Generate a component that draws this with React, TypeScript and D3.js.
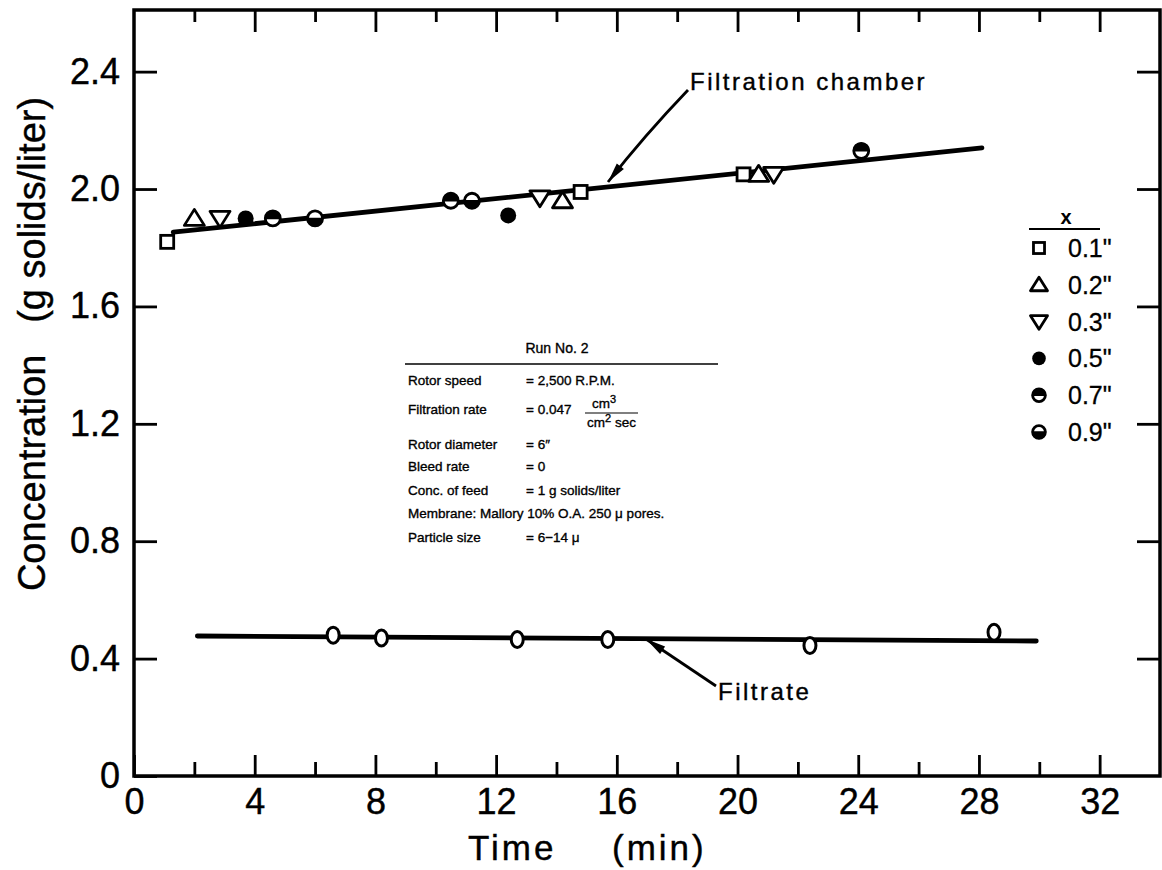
import React, { useEffect, useRef } from 'react';
import * as d3 from 'd3';

// tick values
const timeMajor = [0, 4, 8, 12, 16, 20, 24, 28, 32];
const timeMinor = [2, 6, 10, 14, 18, 22, 26, 30];
const concTicks = [0, 0.4, 0.8, 1.2, 1.6, 2.0, 2.4];

// filtration chamber readings, by position x
const t01 = [1.1, 14.8, 20.2];
const c01 = [1.82, 1.99, 2.05];
const t02 = [2.0, 14.2, 20.7];
const c02 = [1.9, 1.96, 2.05];
const t03 = [2.85, 13.45, 21.2];
const c03 = [1.9, 1.97, 2.05];
const t05 = [3.7, 12.4];
const c05 = [1.9, 1.91];
const t07 = [4.6, 10.5, 24.1];
const c07 = [1.9, 1.96, 2.13];
const t09 = [6.0, 11.2];
const c09 = [1.9, 1.96];

// filtrate readings
const tFiltrate = [6.6, 8.2, 12.7, 15.7, 22.4, 28.5];
const cFiltrate = [0.48, 0.47, 0.465, 0.465, 0.445, 0.49];

// fitted lines
const chamberFitT = [1.3, 28.1];
const chamberFitC = [1.853, 2.14];
const filtrateFitT = [2.1, 29.9];
const filtrateFitC = [0.477, 0.46];

const legendLabels = ['0.1"', '0.2"', '0.3"', '0.5"', '0.7"', '0.9"'];
const legendKinds = ['square', 'up', 'down', 'filled', 'top', 'bottom'];

const runInfo = [
  ['Rotor speed', '= 2,500 R.P.M.'],
  ['Filtration rate', '= 0.047'],
  ['Rotor diameter', '= 6\u2033'],
  ['Bleed rate', '= 0'],
  ['Conc. of feed', '= 1 g solids/liter'],
  ['Membrane:  Mallory 10% O.A. 250 \u03bc pores.', ''],
  ['Particle size', '= 6\u221214 \u03bc'],
];

const FONT = '"Liberation Sans", Arial, sans-serif';

function drawMarker(g: any, kind: string, cx: number, cy: number, s: number) {
  const sw = 2.8;
  if (kind === 'square') {
    g.append('rect')
      .attr('x', cx - 6.5 * s).attr('y', cy - 6.5 * s)
      .attr('width', 13 * s).attr('height', 13 * s)
      .attr('fill', '#fff').attr('stroke', '#000').attr('stroke-width', sw);
  } else if (kind === 'up') {
    g.append('path')
      .attr('d', `M${cx},${cy - 9 * s}L${cx + 10 * s},${cy + 7 * s}L${cx - 10 * s},${cy + 7 * s}Z`)
      .attr('fill', '#fff').attr('stroke', '#000').attr('stroke-width', sw)
      .attr('stroke-linejoin', 'round');
  } else if (kind === 'down') {
    g.append('path')
      .attr('d', `M${cx - 10 * s},${cy - 7 * s}L${cx + 10 * s},${cy - 7 * s}L${cx},${cy + 9 * s}Z`)
      .attr('fill', '#fff').attr('stroke', '#000').attr('stroke-width', sw)
      .attr('stroke-linejoin', 'round');
  } else if (kind === 'filled') {
    g.append('circle').attr('cx', cx).attr('cy', cy).attr('r', 8 * s).attr('fill', '#000');
  } else {
    const r = 7.5 * s;
    g.append('circle').attr('cx', cx).attr('cy', cy).attr('r', r)
      .attr('fill', '#fff').attr('stroke', '#000').attr('stroke-width', sw);
    const sweep = kind === 'top' ? 1 : 0;
    g.append('path')
      .attr('d', `M${cx - r},${cy}A${r},${r} 0 0 ${sweep} ${cx + r},${cy}Z`)
      .attr('fill', '#000').attr('stroke', '#000').attr('stroke-width', 1.5);
  }
}

export default function App() {
  const ref = useRef<SVGSVGElement>(null);

  useEffect(() => {
    const svg = d3.select(ref.current);
    svg.selectAll('*').remove();

    const x = d3.scaleLinear().domain([0, 34]).range([134, 1160]);
    const y = d3.scaleLinear().domain([0, 2.61]).range([776, 10]);

    svg.append('rect').attr('width', 1162).attr('height', 870).attr('fill', '#fff');

    // ticks, all pointing inward
    const styleAxis = (g: any) => {
      g.select('.domain').remove();
      g.selectAll('line').attr('stroke', '#000').attr('stroke-width', 2.8);
      g.selectAll('text')
        .attr('font-family', FONT).attr('font-size', 36).attr('fill', '#000')
        .attr('stroke', '#000').attr('stroke-width', 0.4);
    };

    svg.append('g')
      .attr('transform', 'translate(0,776)')
      .call(d3.axisBottom(x).tickValues(timeMajor).tickSize(-21).tickPadding(12)
        .tickFormat((d: any) => String(d)))
      .call(styleAxis);
    svg.append('g')
      .attr('transform', 'translate(0,776)')
      .call(d3.axisBottom(x).tickValues(timeMinor).tickSize(-14).tickFormat(() => ''))
      .call(styleAxis);
    svg.append('g')
      .attr('transform', 'translate(0,10)')
      .call(d3.axisTop(x).tickValues(timeMajor.slice(1)).tickSize(-22).tickFormat(() => ''))
      .call(styleAxis);
    svg.append('g')
      .attr('transform', 'translate(0,10)')
      .call(d3.axisTop(x).tickValues(timeMinor).tickSize(-12).tickFormat(() => ''))
      .call(styleAxis);
    svg.append('g')
      .attr('transform', 'translate(134,0)')
      .call(d3.axisLeft(y).tickValues(concTicks).tickSize(-23).tickPadding(14)
        .tickFormat((d: any) => (d === 0 ? '0' : d3.format('.1f')(d))))
      .call(styleAxis);
    svg.append('g')
      .attr('transform', 'translate(1160,0)')
      .call(d3.axisRight(y).tickValues(concTicks.slice(1)).tickSize(-23).tickFormat(() => ''))
      .call(styleAxis);

    // frame
    svg.append('rect')
      .attr('x', x(0)).attr('y', y(2.61))
      .attr('width', x(34) - x(0)).attr('height', y(0) - y(2.61))
      .attr('fill', 'none').attr('stroke', '#000').attr('stroke-width', 3.5);

    // axis titles
    svg.append('text').attr('x', 468).attr('y', 860)
      .attr('font-family', FONT).attr('font-size', 35).attr('letter-spacing', 3)
      .attr('stroke', '#000').attr('stroke-width', 0.4)
      .text('Time');
    svg.append('text').attr('x', 612).attr('y', 860)
      .attr('font-family', FONT).attr('font-size', 35).attr('letter-spacing', 3)
      .attr('stroke', '#000').attr('stroke-width', 0.4)
      .text('(min)');
    svg.append('text')
      .attr('transform', 'translate(45,344) rotate(-90)')
      .attr('text-anchor', 'middle')
      .attr('font-family', FONT).attr('font-size', 38)
      .attr('stroke', '#000').attr('stroke-width', 0.4)
      .attr('xml:space', 'preserve')
      .text('Concentration   (g solids/liter)');

    // fitted lines
    const fit = (ts: number[], cs: number[]) =>
      d3.line<number>().x((d) => x(d)).y((d, i) => y(cs[i]))(ts);
    svg.append('path').attr('d', fit(chamberFitT, chamberFitC))
      .attr('stroke', '#000').attr('stroke-width', 4.8).attr('fill', 'none')
      .attr('stroke-linecap', 'round');
    svg.append('path').attr('d', fit(filtrateFitT, filtrateFitC))
      .attr('stroke', '#000').attr('stroke-width', 4.8).attr('fill', 'none')
      .attr('stroke-linecap', 'round');

    // chamber points
    const series = [
      { kind: 'square', ts: t01, cs: c01 },
      { kind: 'up', ts: t02, cs: c02 },
      { kind: 'down', ts: t03, cs: c03 },
      { kind: 'filled', ts: t05, cs: c05 },
      { kind: 'top', ts: t07, cs: c07 },
      { kind: 'bottom', ts: t09, cs: c09 },
    ];
    const pts = svg.append('g');
    series.forEach((s) => {
      s.ts.forEach((t, i) => drawMarker(pts, s.kind, x(t), y(s.cs[i]), 1));
    });

    // filtrate points
    tFiltrate.forEach((t, i) => {
      pts.append('ellipse')
        .attr('cx', x(t)).attr('cy', y(cFiltrate[i]))
        .attr('rx', 6).attr('ry', 8)
        .attr('fill', '#fff').attr('stroke', '#000').attr('stroke-width', 3);
    });

    // arrows and labels
    const arrow = (x1: number, y1: number, x2: number, y2: number, bend: number) => {
      const mx = (x1 + x2) / 2 + bend, my = (y1 + y2) / 2;
      svg.append('path')
        .attr('d', `M${x1},${y1}Q${mx},${my} ${x2},${y2}`)
        .attr('stroke', '#000').attr('stroke-width', 2.8).attr('fill', 'none');
      const ang = Math.atan2(y2 - my, x2 - mx);
      const L = 20, W = 4.5;
      const bx = x2 - L * Math.cos(ang), by = y2 - L * Math.sin(ang);
      const nx = -Math.sin(ang) * W, ny = Math.cos(ang) * W;
      svg.append('path')
        .attr('d', `M${x2},${y2}L${bx + nx},${by + ny}L${bx - nx},${by - ny}Z`)
        .attr('fill', '#000');
    };
    arrow(688, 90, 608, 182, -4);
    arrow(716, 686, 646, 639, 0);

    svg.append('text').attr('x', 690).attr('y', 90)
      .attr('font-family', FONT).attr('font-size', 24).attr('letter-spacing', 2.5)
      .attr('stroke', '#000').attr('stroke-width', 0.4)
      .text('Filtration chamber');
    svg.append('text').attr('x', 718).attr('y', 700)
      .attr('font-family', FONT).attr('font-size', 24).attr('letter-spacing', 2.5)
      .attr('stroke', '#000').attr('stroke-width', 0.4)
      .text('Filtrate');

    // legend
    const lg = svg.append('g');
    lg.append('text').attr('x', 1066).attr('y', 224).attr('text-anchor', 'middle')
      .attr('font-family', FONT).attr('font-size', 20).attr('font-weight', 'bold').text('x');
    lg.append('line').attr('x1', 1029).attr('x2', 1100).attr('y1', 229).attr('y2', 229)
      .attr('stroke', '#000').attr('stroke-width', 2);
    const legendY = d3.scalePoint<string>().domain(legendLabels).range([248, 432]);
    legendLabels.forEach((lab, i) => {
      const yy = legendY(lab) as number;
      drawMarker(lg, legendKinds[i], 1039, yy, 0.85);
      lg.append('text').attr('x', 1068).attr('y', yy + 9)
        .attr('font-family', FONT).attr('font-size', 25)
        .attr('stroke', '#000').attr('stroke-width', 0.3).text(lab);
    });

    // run info block
    const info = svg.append('g').attr('font-family', FONT).attr('font-size', 13.5)
      .attr('stroke', '#000').attr('stroke-width', 0.35);
    info.append('text').attr('x', 557).attr('y', 353).attr('text-anchor', 'middle')
      .attr('font-size', 14).text('Run No. 2');
    info.append('line').attr('x1', 405).attr('x2', 718).attr('y1', 364).attr('y2', 364)
      .attr('stroke', '#000').attr('stroke-width', 1.6);
    const rowY = [385, 414, 449, 471, 495, 518, 542];
    runInfo.forEach((r, i) => {
      info.append('text').attr('x', 408).attr('y', rowY[i]).text(r[0]);
      if (r[1]) info.append('text').attr('x', 526).attr('y', rowY[i]).text(r[1]);
    });
    // fraction cm3 / cm2 sec
    const num = info.append('text').attr('x', 592).attr('y', 408);
    num.append('tspan').text('cm');
    num.append('tspan').attr('dy', -5).attr('font-size', 11).text('3');
    info.append('line').attr('x1', 585).attr('x2', 638).attr('y1', 413).attr('y2', 413)
      .attr('stroke', '#000').attr('stroke-width', 1.2);
    const den = info.append('text').attr('x', 587).attr('y', 427);
    den.append('tspan').text('cm');
    den.append('tspan').attr('dy', -5).attr('font-size', 11).text('2');
    den.append('tspan').attr('dy', 5).text(' sec');
  }, []);

  return (
    <svg
      ref={ref}
      width={1162}
      height={870}
      style={{ position: 'absolute', left: 0, top: 0, display: 'block' }}
    />
  );
}
